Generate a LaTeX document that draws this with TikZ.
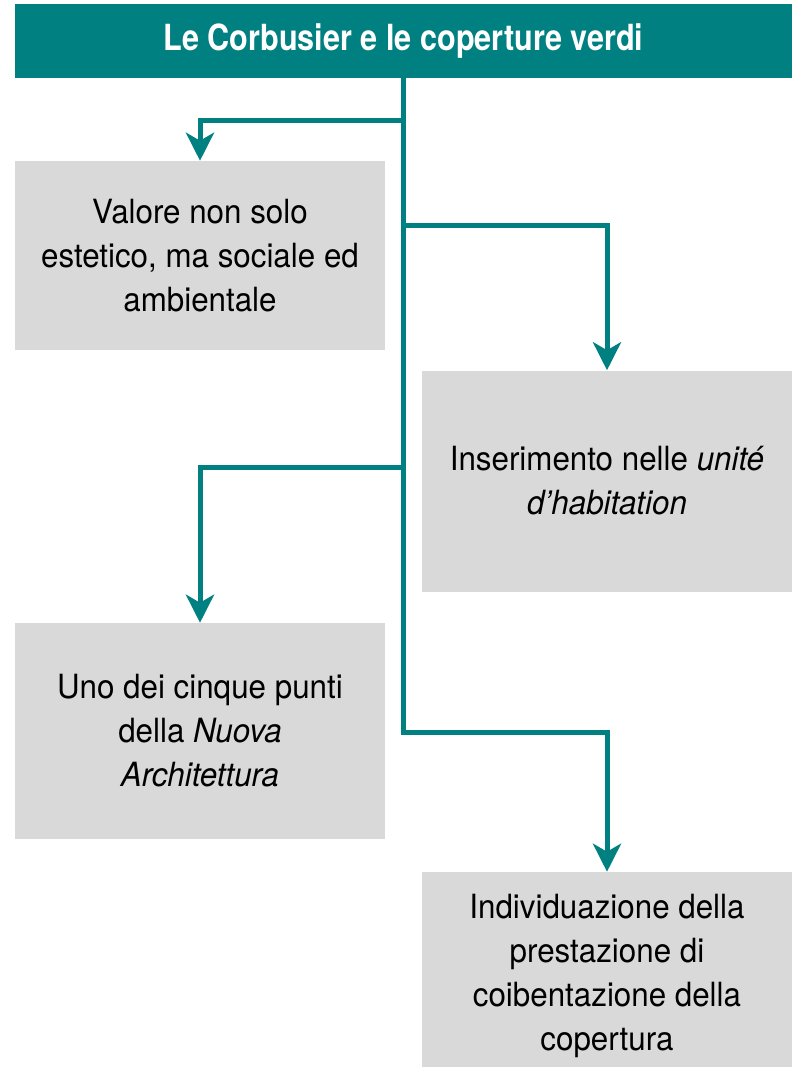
\documentclass[tikz,border=0pt]{standalone}
\usepackage{fontspec}
\setmainfont[FakeStretch=0.94]{TeX Gyre Heros}
\newfontfamily\titlefont[FakeStretch=0.85]{TeX Gyre Heros}
\usepackage{tikz}
\usetikzlibrary{arrows.meta}
\usetikzlibrary{calc,positioning}
\definecolor{corbteal}{RGB}{0,128,128}
\definecolor{boxgray}{RGB}{217,217,217}

\begin{document}
\begin{tikzpicture}[>={Stealth[length=21pt,width=21pt,inset=6pt]}, x=0.75pt, y=-0.75pt,
    box/.style={fill=boxgray, align=center, inner sep=0pt, font=\fontsize{25}{33}\selectfont},
    link/.style={draw=corbteal, line width=3.75pt}]

    \useasboundingbox (0,0) rectangle (792,1067);

    \node[fill=corbteal, text=white, inner sep=0pt, minimum width=582.75pt, minimum height=55.5pt,
        font=\titlefont\fontsize{27}{30}\selectfont\bfseries] (title) at (403.5,41) {Le Corbusier e le coperture verdi};

    \node[box, minimum width=277.5pt, minimum height=141.75pt] (valore) at (200,255.5)
        {Valore non solo\\estetico, ma sociale ed\\ambientale};
    \node[box, minimum width=277.5pt, minimum height=165.75pt] (unite) at (607,481)
        {Inserimento nelle \textit{unité}\\\textit{d’habitation}};
    \node[box, minimum width=277.5pt, minimum height=162pt] (punti) at (200,731)
        {Uno dei cinque punti\\della \textit{Nuova}\\\textit{Architettura}};
    % bottom box runs past the page edge
    \node[box, minimum width=277.5pt, minimum height=156pt] (coiben) at (607,976)
        {Individuazione della\\prestazione di\\coibentazione della\\copertura};

    \coordinate (j1) at (403.5,120);
    \coordinate (j2) at (403.5,225);
    \coordinate (j3) at (403.5,467);
    \coordinate (j4) at (403.5,732);

    % trunk and branches
    \draw[link, ->] (title.south) -- (j4) -| (coiben.north);
    \draw[link, ->] (j1) -| (valore.north);
    \draw[link, ->] (j2) -| (unite.north);
    \draw[link, ->] (j3) -| (punti.north);

\end{tikzpicture}
\end{document}
